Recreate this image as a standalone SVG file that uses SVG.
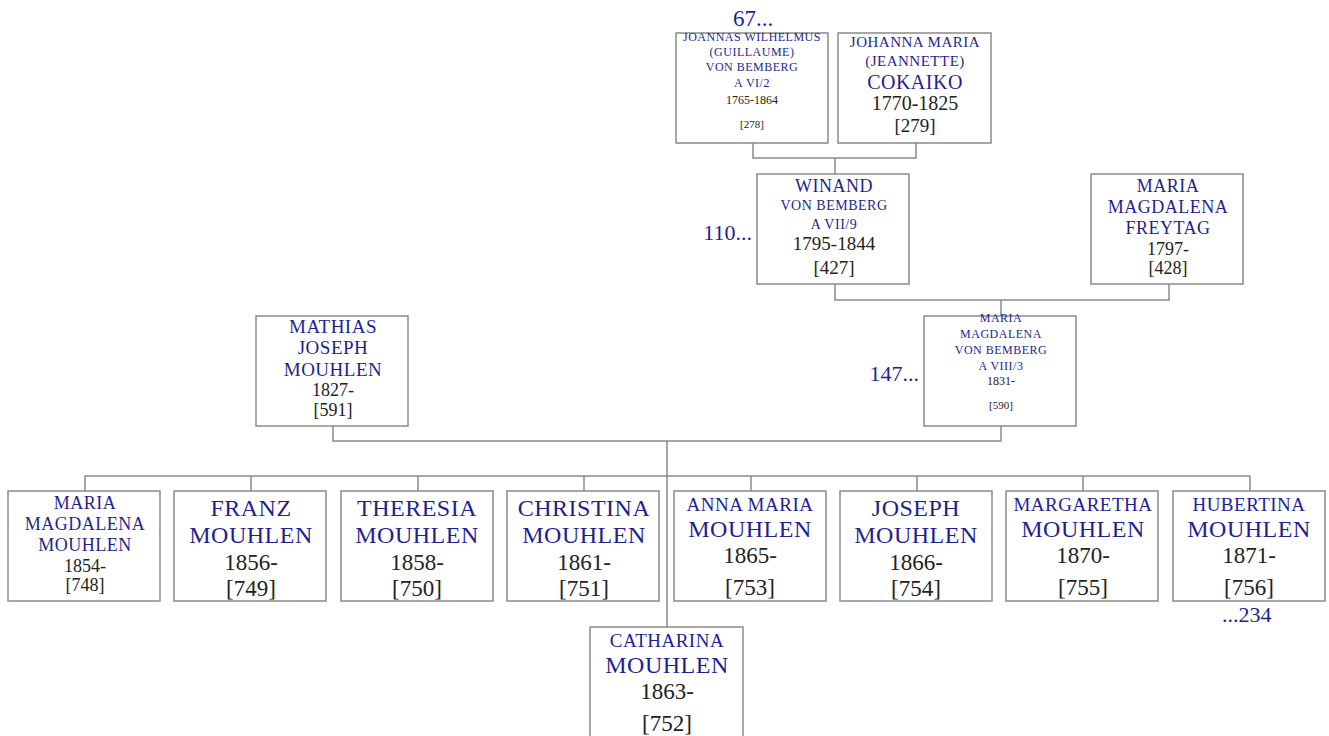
<svg xmlns="http://www.w3.org/2000/svg" width="1329" height="736" viewBox="0 0 1329 736">
<style>
.box{fill:#fff;stroke:#8a8a8a;stroke-width:1.5}
.ln{fill:none;stroke:#8a8a8a;stroke-width:1.5}
text{font-family:"Liberation Serif","DejaVu Serif",serif;text-anchor:middle}
.n{fill:#1f1f8f;letter-spacing:0.5px}
.d{fill:#222}
.ref{fill:#1f1f8f}
</style>
<rect width="1329" height="736" fill="#fff"/>
<g id="connectors">
<path class="ln" d="M753 143V158H916V143M835 158V174"/>
<path class="ln" d="M835 284V300H1169V284M1001 300V316"/>
<path class="ln" d="M333 426V441H1001V426M667 441V627"/>
<path class="ln" d="M85 491V476H1250V491M251 476V491M418 476V491M584 476V491M751 476V491M917 476V491M1083 476V491"/>
</g>
<g id="ref67"><text class="ref" x="753" y="26" font-size="23">67...</text></g>
<g id="ref110"><text class="ref" x="752" y="240" font-size="22" style="text-anchor:end">110...</text></g>
<g id="ref147"><text class="ref" x="919" y="381" font-size="22" style="text-anchor:end">147...</text></g>
<g id="ref234"><text class="ref" x="1222" y="622" font-size="22" style="text-anchor:start">...234</text></g>
<g id="p278">
<rect class="box" x="676" y="33" width="152" height="110"/>
<text class="n" x="752" y="41" font-size="12">JOANNAS WILHELMUS</text>
<text class="n" x="752" y="56" font-size="12">(GUILLAUME)</text>
<text class="n" x="752" y="71" font-size="12">VON BEMBERG</text>
<text class="n" x="752" y="87" font-size="12">A VI/2</text>
<text class="d" x="752" y="104" font-size="12">1765-1864</text>
<text class="d" x="752" y="128" font-size="11">[278]</text>
</g>
<g id="p279">
<rect class="box" x="838" y="33" width="153" height="110"/>
<text class="n" x="915" y="47" font-size="15">JOHANNA MARIA</text>
<text class="n" x="915" y="66" font-size="15">(JEANNETTE)</text>
<text class="n" x="915" y="89" font-size="20">COKAIKO</text>
<text class="d" x="915" y="110" font-size="20">1770-1825</text>
<text class="d" x="915" y="132" font-size="19">[279]</text>
</g>
<g id="p427">
<rect class="box" x="757" y="174" width="152" height="110"/>
<text class="n" x="834" y="192" font-size="18">WINAND</text>
<text class="n" x="834" y="210" font-size="14">VON BEMBERG</text>
<text class="n" x="834" y="229" font-size="14">A VII/9</text>
<text class="d" x="834" y="250" font-size="19">1795-1844</text>
<text class="d" x="834" y="274" font-size="19">[427]</text>
</g>
<g id="p428">
<rect class="box" x="1091" y="174" width="152" height="110"/>
<text class="n" x="1168" y="192" font-size="18">MARIA</text>
<text class="n" x="1168" y="213" font-size="18">MAGDALENA</text>
<text class="n" x="1168" y="234" font-size="18">FREYTAG</text>
<text class="d" x="1168" y="255" font-size="18">1797-</text>
<text class="d" x="1168" y="274" font-size="18">[428]</text>
</g>
<g id="p591">
<rect class="box" x="256" y="316" width="152" height="110"/>
<text class="n" x="333" y="333" font-size="19">MATHIAS</text>
<text class="n" x="333" y="354" font-size="19">JOSEPH</text>
<text class="n" x="333" y="376" font-size="19">MOUHLEN</text>
<text class="d" x="333" y="396" font-size="18">1827-</text>
<text class="d" x="333" y="416" font-size="18">[591]</text>
</g>
<g id="p590">
<rect class="box" x="924" y="316" width="152" height="110"/>
<text class="n" x="1001" y="322" font-size="12">MARIA</text>
<text class="n" x="1001" y="338" font-size="12">MAGDALENA</text>
<text class="n" x="1001" y="354" font-size="12">VON BEMBERG</text>
<text class="n" x="1001" y="370" font-size="12">A VIII/3</text>
<text class="d" x="1001" y="385" font-size="12">1831-</text>
<text class="d" x="1001" y="409" font-size="11">[590]</text>
</g>
<g id="p748">
<rect class="box" x="8" y="491" width="152" height="110"/>
<text class="n" x="85" y="509" font-size="18">MARIA</text>
<text class="n" x="85" y="530" font-size="18">MAGDALENA</text>
<text class="n" x="85" y="551" font-size="18">MOUHLEN</text>
<text class="d" x="85" y="572" font-size="18">1854-</text>
<text class="d" x="85" y="591" font-size="18">[748]</text>
</g>
<g id="p749">
<rect class="box" x="174" y="491" width="152" height="110"/>
<text class="n" x="251" y="516" font-size="24">FRANZ</text>
<text class="n" x="251" y="543" font-size="24">MOUHLEN</text>
<text class="d" x="251" y="570" font-size="23">1856-</text>
<text class="d" x="251" y="596" font-size="23">[749]</text>
</g>
<g id="p750">
<rect class="box" x="341" y="491" width="152" height="110"/>
<text class="n" x="417" y="516" font-size="24">THERESIA</text>
<text class="n" x="417" y="543" font-size="24">MOUHLEN</text>
<text class="d" x="417" y="570" font-size="23">1858-</text>
<text class="d" x="417" y="596" font-size="23">[750]</text>
</g>
<g id="p751">
<rect class="box" x="507" y="491" width="152" height="110"/>
<text class="n" x="584" y="516" font-size="24">CHRISTINA</text>
<text class="n" x="584" y="543" font-size="24">MOUHLEN</text>
<text class="d" x="584" y="570" font-size="23">1861-</text>
<text class="d" x="584" y="596" font-size="23">[751]</text>
</g>
<g id="p753">
<rect class="box" x="674" y="491" width="152" height="110"/>
<text class="n" x="750" y="511" font-size="19">ANNA MARIA</text>
<text class="n" x="750" y="537" font-size="24">MOUHLEN</text>
<text class="d" x="750" y="563" font-size="23">1865-</text>
<text class="d" x="750" y="595" font-size="23">[753]</text>
</g>
<g id="p754">
<rect class="box" x="840" y="491" width="152" height="110"/>
<text class="n" x="916" y="516" font-size="24">JOSEPH</text>
<text class="n" x="916" y="543" font-size="24">MOUHLEN</text>
<text class="d" x="916" y="570" font-size="23">1866-</text>
<text class="d" x="916" y="596" font-size="23">[754]</text>
</g>
<g id="p755">
<rect class="box" x="1006" y="491" width="152" height="110"/>
<text class="n" x="1083" y="511" font-size="19">MARGARETHA</text>
<text class="n" x="1083" y="537" font-size="24">MOUHLEN</text>
<text class="d" x="1083" y="563" font-size="23">1870-</text>
<text class="d" x="1083" y="595" font-size="23">[755]</text>
</g>
<g id="p756">
<rect class="box" x="1173" y="491" width="152" height="110"/>
<text class="n" x="1249" y="511" font-size="19">HUBERTINA</text>
<text class="n" x="1249" y="537" font-size="24">MOUHLEN</text>
<text class="d" x="1249" y="563" font-size="23">1871-</text>
<text class="d" x="1249" y="595" font-size="23">[756]</text>
</g>
<g id="p752">
<rect class="box" x="590" y="627" width="153" height="110"/>
<text class="n" x="667" y="647" font-size="19">CATHARINA</text>
<text class="n" x="667" y="673" font-size="24">MOUHLEN</text>
<text class="d" x="667" y="699" font-size="23">1863-</text>
<text class="d" x="667" y="731" font-size="23">[752]</text>
</g>
</svg>
